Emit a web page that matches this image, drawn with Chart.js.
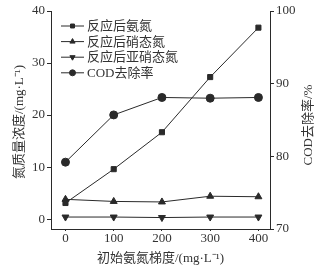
<!DOCTYPE html>
<html>
<head>
<meta charset="utf-8">
<script src="https://cdn.jsdelivr.net/npm/chart.js@4/dist/chart.umd.min.js"></script>
<style>
  html, body { margin: 0; padding: 0; background: #fff; }
  #wrap { width: 329px; height: 271px; }
</style>
</head>
<body>
<div id="wrap"><canvas id="lineChart"></canvas></div>
<script>
var xValues = [0, 100, 200, 300, 400];
var ammonia = [3.1, 9.6, 16.7, 27.3, 36.8];
var nitrate = [3.8, 3.4, 3.3, 4.4, 4.3];
var nitrite = [0.4, 0.4, 0.3, 0.4, 0.4];
var codRemoval = [79.2, 85.7, 88.1, 88.0, 88.1];
var seriesNames = ["反应后氨氮", "反应后硝态氮", "反应后亚硝态氮", "COD去除率"];
var xTicks = [0, 100, 200, 300, 400];
var leftTicks = [0, 10, 20, 30, 40];
var rightTicks = [70, 80, 90, 100];

var FONT = "'Liberation Serif', 'Noto Sans CJK SC', serif";
var ink = "#2a2a2a";

function pts(arr){
  return xValues.map(function(x, i){ return {x: x, y: arr[i]}; });
}

function ds(label, arr, style, rot, axis){
  return {
    label: label,
    data: pts(arr),
    yAxisID: axis,
    borderColor: ink,
    backgroundColor: ink,
    borderWidth: 1,
    pointStyle: style,
    rotation: rot,
    pointRadius: style == "rect" ? 3.6 : 4,
    pointBorderWidth: 1,
    tension: 0
  };
}

function sideTitle(ctx, text, x, y){
  ctx.save();
  ctx.translate(x, y);
  ctx.rotate(-Math.PI / 2);
  ctx.textAlign = "center";
  ctx.textBaseline = "middle";
  ctx.fillStyle = "#333";
  ctx.font = "13px " + FONT;
  ctx.fillText(text, 0, 0);
  ctx.restore();
}

// custom legend: short line with marker in the middle, then label
var legendPlugin = {
  id: "lineLegend",
  afterDraw: function(chart){
    var ctx = chart.ctx;
    var area = chart.chartArea;
    var x0 = area.left + 10;
    var y0 = area.top + 15;
    ctx.save();
    chart.data.datasets.forEach(function(d, i){
      var y = y0 + i * 15.6;
      ctx.strokeStyle = ink;
      ctx.lineWidth = 1;
      ctx.beginPath();
      ctx.moveTo(x0, y);
      ctx.lineTo(x0 + 23, y);
      ctx.stroke();
      ctx.fillStyle = ink;
      Chart.helpers.drawPoint(ctx, {
        pointStyle: d.pointStyle,
        rotation: d.rotation,
        radius: d.pointStyle == "rect" ? 2.8 : 3,
        borderWidth: 1
      }, x0 + 11.5, y);
      ctx.fillStyle = "#333";
      ctx.font = "13px " + FONT;
      ctx.textBaseline = "middle";
      ctx.textAlign = "left";
      ctx.fillText(d.label, x0 + 26, y + 0.5);
    });
    ctx.restore();
    var midY = (area.top + area.bottom) / 2;
    sideTitle(ctx, "氮质量浓度/(mg·L⁻¹)", 20, midY + 2);
    sideTitle(ctx, "COD去除率/%", chart.scales.yR.right - 20, midY + 5);
  }
};

new Chart("lineChart", {
  type: "line",
  data: {
    datasets: [
      ds(seriesNames[0], ammonia, "rect", 0, "yL"),
      ds(seriesNames[1], nitrate, "triangle", 0, "yL"),
      ds(seriesNames[2], nitrite, "triangle", 180, "yL"),
      ds(seriesNames[3], codRemoval, "circle", 0, "yR")
    ]
  },
  options: {
    responsive: true,
    maintainAspectRatio: false,
    animation: false,
    layout: { padding: { top: 11, left: 0, right: 0, bottom: 0 } },
    plugins: {
      legend: { display: false },
      tooltip: { enabled: false }
    },
    scales: {
      x: {
        type: "linear",
        min: -30,
        max: 424,
        afterBuildTicks: function(s){ s.ticks = xTicks.map(function(v){ return {value: v}; }); },
        afterFit: function(s){ s.height = 42; },
        grid: { display: true, drawOnChartArea: false, tickLength: 2, color: ink },
        border: { display: true, color: ink, width: 1 },
        ticks: { color: "#333", font: { family: FONT, size: 13 }, padding: 0, maxRotation: 0 },
        title: { display: true, text: "初始氨氮梯度/(mg·L⁻¹)", color: "#333", font: { family: FONT, size: 13 }, padding: { top: 0, bottom: 5 } }
      },
      yL: {
        type: "linear",
        position: "left",
        min: -1.9,
        max: 40,
        afterBuildTicks: function(s){ s.ticks = leftTicks.map(function(v){ return {value: v}; }); },
        afterFit: function(s){ s.width = 51; },
        grid: { display: true, drawOnChartArea: false, tickLength: 4, color: ink },
        border: { display: true, color: ink, width: 1 },
        ticks: { color: "#333", font: { family: FONT, size: 13 }, padding: 2 }
      },
      yR: {
        type: "linear",
        position: "right",
        min: 70,
        max: 100,
        afterBuildTicks: function(s){ s.ticks = rightTicks.map(function(v){ return {value: v}; }); },
        afterFit: function(s){ s.width = 59; },
        grid: { display: true, drawOnChartArea: false, tickLength: 4, color: ink },
        border: { display: true, color: ink, width: 1 },
        ticks: { color: "#333", font: { family: FONT, size: 13 }, padding: 2 }
      }
    }
  },
  plugins: [legendPlugin]
});
</script>
</body>
</html>
